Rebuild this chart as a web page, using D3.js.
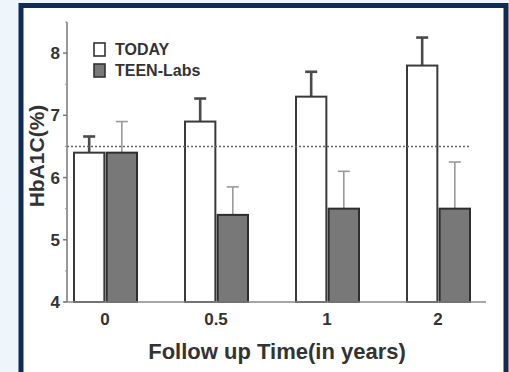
<!DOCTYPE html>
<html>
<head>
<meta charset="utf-8">
<script src="https://cdn.jsdelivr.net/npm/d3@7"></script>
<style>
	html, body { margin: 0; padding: 0; background: #eef5fb; }
	svg { display: block; font-family: "Liberation Sans", Arial, sans-serif; }
</style>
</head>
<body>
<div id="chart"></div>
<script>
// data
let times = ["0", "0.5", "1", "2"];
let series = ["TODAY", "TEEN-Labs"];
let today_mean = [6.4, 6.9, 7.3, 7.8];
let today_err = [6.66, 7.27, 7.7, 8.25];
let teen_mean = [6.4, 5.4, 5.5, 5.5];
let teen_err = [6.9, 5.85, 6.1, 6.25];
let y_ticks = [4, 5, 6, 7, 8];
let y_minor = [4.5, 5.5, 6.5, 7.5, 8.5];
let threshold = 6.5;

let width = 509, height = 372;

let svg = d3.select("#chart")
	.append("svg")
	.attr("width", width)
	.attr("height", height);

// frame
svg.append("rect")
	.attr("x", 21).attr("y", 5.5)
	.attr("width", 485).attr("height", 370)
	.attr("fill", "#fff")
	.attr("stroke", "#0f2c55")
	.attr("stroke-width", 5);

let x = d3.scaleBand()
	.domain(times)
	.range([49.5, 493.5]);

let xs = d3.scaleBand()
	.domain(series)
	.range([-31, 32])
	.paddingInner(0.07);

let y = d3.scaleLinear()
	.domain([4, 8.5])
	.range([302, 22]);

let rows = times.map((t, i) => ({
	time: t,
	vals: [
		{ key: "TODAY", mean: today_mean[i], err: today_err[i] },
		{ key: "TEEN-Labs", mean: teen_mean[i], err: teen_err[i] }
	]
}));

let fills = { "TODAY": "#ffffff", "TEEN-Labs": "#787878" };
let strokes = { "TODAY": "#3a3a3a", "TEEN-Labs": "#2e2e2e" };
let errColors = { "TODAY": "#4a4a4a", "TEEN-Labs": "#9a9a9a" };
let errWidth = { "TODAY": 2.6, "TEEN-Labs": 1.6 };

let groups = svg.append("g")
	.selectAll("g")
	.data(rows)
	.enter().append("g")
	.attr("transform", d => "translate(" + (x(d.time) + x.bandwidth() / 2) + ",0)");

// error bars
groups.selectAll("g.err")
	.data(d => d.vals)
	.enter().append("g")
	.attr("class", "err")
	.each(function(d) {
		let g = d3.select(this);
		let cx = xs(d.key) + xs.bandwidth() / 2;
		g.append("line")
			.attr("x1", cx).attr("x2", cx)
			.attr("y1", y(d.mean)).attr("y2", y(d.err))
			.attr("stroke", errColors[d.key])
			.attr("stroke-width", errWidth[d.key]);
		g.append("line")
			.attr("x1", cx - 6).attr("x2", cx + 6)
			.attr("y1", y(d.err)).attr("y2", y(d.err))
			.attr("stroke", errColors[d.key])
			.attr("stroke-width", errWidth[d.key]);
	});

// bars
groups.selectAll("rect")
	.data(d => d.vals)
	.enter().append("rect")
	.attr("x", d => xs(d.key))
	.attr("width", xs.bandwidth())
	.attr("y", d => y(d.mean))
	.attr("height", d => y(4) - y(d.mean))
	.attr("fill", d => fills[d.key])
	.attr("stroke", d => strokes[d.key])
	.attr("stroke-width", 2);

// dotted threshold line
svg.append("line")
	.attr("x1", 67).attr("x2", 471)
	.attr("y1", y(threshold)).attr("y2", y(threshold))
	.attr("stroke", "#666")
	.attr("stroke-width", 1.5)
	.attr("stroke-dasharray", "2,2");

// y axis
let yAxis = svg.append("g")
	.attr("transform", "translate(67,0)");
yAxis.append("line")
	.attr("x1", 0).attr("x2", 0)
	.attr("y1", y(8.5)).attr("y2", y(4))
	.attr("stroke", "#777").attr("stroke-width", 1.5);
yAxis.selectAll("line.major")
	.data(y_ticks)
	.enter().append("line")
	.attr("class", "major")
	.attr("x1", -4).attr("x2", 0)
	.attr("y1", d => y(d)).attr("y2", d => y(d))
	.attr("stroke", "#777").attr("stroke-width", 1.5);
yAxis.selectAll("line.minor")
	.data(y_minor)
	.enter().append("line")
	.attr("class", "minor")
	.attr("x1", -2).attr("x2", 0)
	.attr("y1", d => y(d)).attr("y2", d => y(d))
	.attr("stroke", "#999").attr("stroke-width", 1);
yAxis.selectAll("text")
	.data(y_ticks)
	.enter().append("text")
	.attr("x", -7)
	.attr("y", d => y(d))
	.attr("dy", "0.36em")
	.attr("text-anchor", "end")
	.attr("font-size", 17)
	.attr("font-weight", "bold")
	.attr("fill", "#333")
	.text(d => d);

// x axis
let xAxis = svg.append("g")
	.attr("transform", "translate(0," + y(4) + ")");
xAxis.append("line")
	.attr("x1", 64).attr("x2", 486)
	.attr("y1", 0).attr("y2", 0)
	.attr("stroke", "#888").attr("stroke-width", 1.5);
xAxis.selectAll("text")
	.data(times)
	.enter().append("text")
	.attr("x", d => x(d) + x.bandwidth() / 2)
	.attr("y", 23)
	.attr("text-anchor", "middle")
	.attr("font-size", 17)
	.attr("font-weight", "bold")
	.attr("fill", "#333")
	.text(d => d);

// axis titles
svg.append("text")
	.attr("x", 277)
	.attr("y", 359)
	.attr("text-anchor", "middle")
	.attr("font-size", 22)
	.attr("font-weight", "bold")
	.attr("fill", "#333")
	.text("Follow up Time(in years)");

svg.append("text")
	.attr("transform", "translate(44,156) rotate(-90)")
	.attr("text-anchor", "middle")
	.attr("font-size", 21)
	.attr("font-weight", "bold")
	.attr("fill", "#333")
	.text("HbA1C(%)");

// legend
let legend = svg.append("g")
	.selectAll("g")
	.data(series)
	.enter().append("g")
	.attr("transform", (d, i) => "translate(94," + (43 + i * 21) + ")");
legend.append("rect")
	.attr("width", 11)
	.attr("height", 13)
	.attr("fill", d => fills[d])
	.attr("stroke", "#333")
	.attr("stroke-width", 1.6);
legend.append("text")
	.attr("x", 21)
	.attr("y", 12)
	.attr("font-size", 16)
	.attr("font-weight", "bold")
	.attr("fill", "#333")
	.text(d => d);
</script>
</body>
</html>
